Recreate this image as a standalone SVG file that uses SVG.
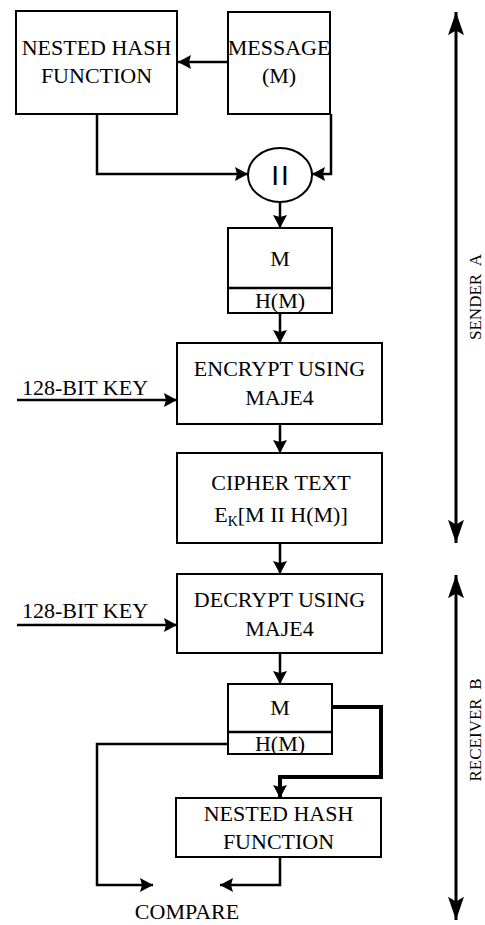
<svg xmlns="http://www.w3.org/2000/svg" width="485" height="925" viewBox="0 0 485 925">
  <style>
    .box { fill: #fff; stroke: #000; stroke-width: 2; }
    .lbl { font-size: 22px; fill: #000; text-anchor: middle; }
    .start { text-anchor: start; }
    .side { font-size: 17px; fill: #000; text-anchor: middle; }
    .wire { fill: none; stroke: #000; stroke-width: 2.5; }
    .thick { stroke-width: 4; }
    .span { fill: none; stroke: #000; stroke-width: 3; }
  </style>
  <defs>
    <marker id="head" markerUnits="userSpaceOnUse" markerWidth="16" markerHeight="16" viewBox="0 -8 14 16" refX="13" refY="0" orient="auto">
      <path d="M0,-7 L13,0 L0,7 L2,0 z" fill="#000"/>
    </marker>
    <marker id="bighead" markerUnits="userSpaceOnUse" markerWidth="24" markerHeight="30" viewBox="0 -11 30 22" refX="29" refY="0" orient="auto-start-reverse">
      <path d="M0,-10 L29,0 L0,10 L6,0 z" fill="#000"/>
    </marker>
  </defs>

  <!-- connectors -->
  <g id="connectors">
    <path class="wire" d="M228,62 H178" stroke-width="3" marker-end="url(#head)"/>
    <path class="wire" d="M97,114 V174 H248" marker-end="url(#head)"/>
    <path class="wire" d="M331,114 V174 H312" marker-end="url(#head)"/>
    <path class="wire" d="M280,201 V228" marker-end="url(#head)"/>
    <path class="wire" d="M280,313 V343" marker-end="url(#head)"/>
    <path class="wire" d="M17,400 H177" marker-end="url(#head)"/>
    <path class="wire" d="M280,424 V453" marker-end="url(#head)"/>
    <path class="wire" d="M280,543 V574" marker-end="url(#head)"/>
    <path class="wire" d="M17,625 H177" marker-end="url(#head)"/>
    <path class="wire" d="M280,653 V684" marker-end="url(#head)"/>
    <path class="wire thick" d="M332,707 H381 V777 H280 V798" marker-end="url(#head)"/>
    <path class="wire" d="M228,744 H97 V885 H153" marker-end="url(#head)"/>
    <path class="wire" d="M280,857 V885 H220" marker-end="url(#head)"/>
  </g>

  <g font-family="Liberation Serif, Times New Roman, serif">
    <!-- sender block -->
    <g id="nested-hash-a">
      <rect class="box" x="16" y="11" width="161" height="103"/>
      <text class="lbl" x="96.5" y="55">NESTED HASH</text>
      <text class="lbl" x="96.5" y="83">FUNCTION</text>
    </g>
    <g id="message">
      <rect class="box" x="228" y="12" width="102" height="102"/>
      <text class="lbl" x="279" y="55">MESSAGE</text>
      <text class="lbl" x="279" y="83">(M)</text>
    </g>
    <g id="concat">
      <ellipse cx="280" cy="175" rx="32" ry="27" fill="#fff" stroke="#000" stroke-width="2"/>
      <text x="281" y="185" font-family="Liberation Sans, Arial, sans-serif" font-size="28" letter-spacing="2" text-anchor="middle">II</text>
    </g>
    <g id="packet-a">
      <rect class="box" x="228" y="228" width="104" height="85"/>
      <line x1="228" y1="288" x2="332" y2="288" stroke="#000" stroke-width="2.5"/>
      <text class="lbl" x="280" y="266">M</text>
      <text class="lbl" x="280" y="308">H(M)</text>
    </g>
    <g id="encrypt">
      <rect class="box" x="177" y="343" width="205" height="81"/>
      <text class="lbl" x="279.5" y="376">ENCRYPT USING</text>
      <text class="lbl" x="279.5" y="405">MAJE4</text>
    </g>
    <g id="key-a">
      <text class="lbl start" x="22" y="395">128-BIT KEY</text>
    </g>
    <g id="cipher">
      <rect class="box" x="177" y="453" width="205" height="90"/>
      <text class="lbl" x="281" y="490">CIPHER TEXT</text>
      <text class="lbl" x="281" y="522">E<tspan font-size="14" dy="4">K</tspan><tspan dy="-4">[M II H(M)]</tspan></text>
    </g>

    <!-- receiver block -->
    <g id="decrypt">
      <rect class="box" x="177" y="574" width="205" height="79"/>
      <text class="lbl" x="279.5" y="607">DECRYPT USING</text>
      <text class="lbl" x="279.5" y="636">MAJE4</text>
    </g>
    <g id="key-b">
      <text class="lbl start" x="22" y="618">128-BIT KEY</text>
    </g>
    <g id="packet-b">
      <rect class="box" x="228" y="684" width="104" height="70"/>
      <line x1="228" y1="732" x2="332" y2="732" stroke="#000" stroke-width="2.5"/>
      <text class="lbl" x="280" y="715">M</text>
      <text class="lbl" x="280" y="751">H(M)</text>
    </g>
    <g id="nested-hash-b">
      <rect class="box" x="176" y="798" width="205" height="59"/>
      <text class="lbl" x="278.5" y="821">NESTED HASH</text>
      <text class="lbl" x="278.5" y="849">FUNCTION</text>
    </g>
    <g id="compare">
      <text class="lbl" x="187" y="919">COMPARE</text>
    </g>

    <!-- side spans -->
    <g id="sender-span">
      <path class="span" d="M456,12 V543" marker-start="url(#bighead)" marker-end="url(#bighead)"/>
      <text class="side" transform="translate(481,297) rotate(-90)" xml:space="preserve">SENDER  A</text>
    </g>
    <g id="receiver-span">
      <path class="span" d="M456,575 V920" marker-start="url(#bighead)" marker-end="url(#bighead)"/>
      <text class="side" transform="translate(481,730) rotate(-90)" xml:space="preserve">RECEIVER  B</text>
    </g>
  </g>
</svg>
